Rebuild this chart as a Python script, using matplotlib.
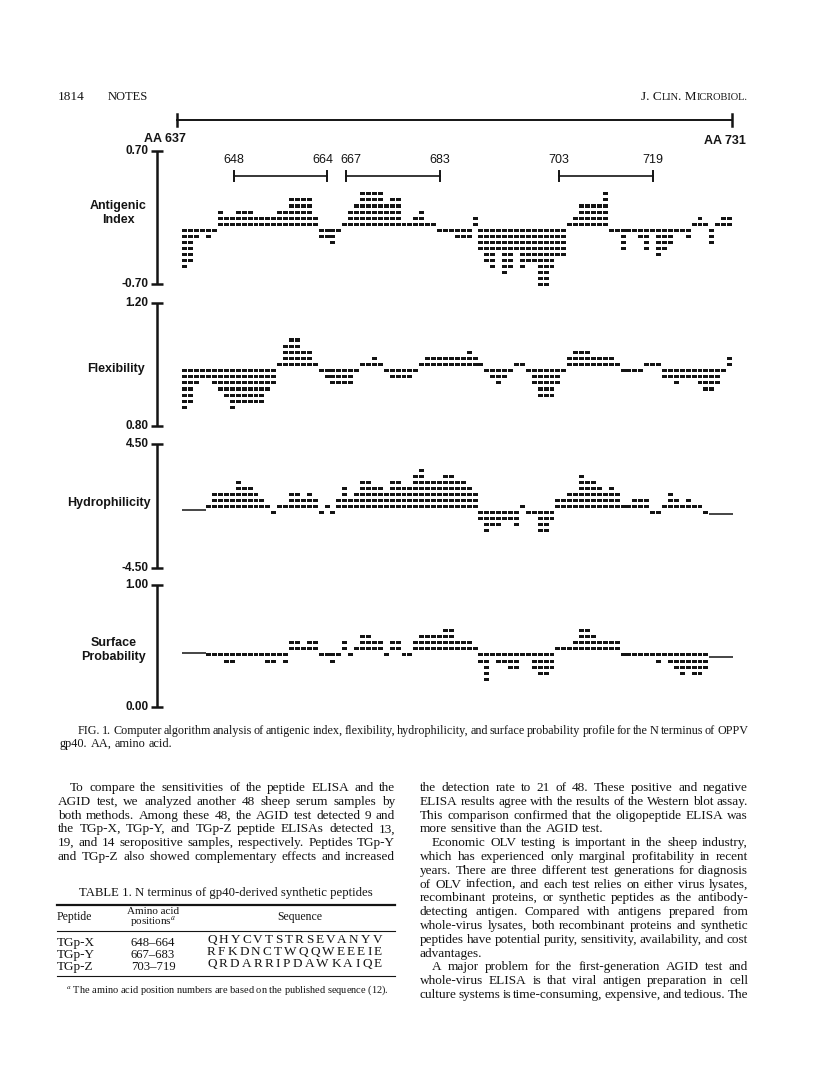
import numpy as np
import matplotlib
matplotlib.use("Agg")
import matplotlib.pyplot as plt

# ---------------- data ----------------
first_residue, last_residue = 637, 731
profile_residues = list(range(639, 732))   # 93 residues plotted

nan = float("nan")
antigenic_index = [-0.54, -0.48, -0.23, -0.16, -0.23, -0.16,
                   0.09, 0.03, 0.03, 0.09, 0.09, 0.09, 0.03, 0.03, 0.03, 0.03, 0.09, 0.09,
                   0.22, 0.22, 0.22, 0.22, 0.03,
                   -0.23, -0.23, -0.29, -0.16,
                   -0.04, 0.09, 0.15, 0.28, 0.28, 0.28, 0.28, 0.15, 0.22, 0.22, -0.04, -0.04,
                   0.03, 0.09, -0.04, -0.04,
                   -0.16, -0.16, -0.16, -0.23, -0.23, -0.23,
                   0.03,
                   -0.35, -0.48, -0.54, -0.35, -0.60, -0.54, -0.35, -0.54, -0.48, -0.48,
                   -0.73, -0.73, -0.54, -0.42, -0.42,
                   -0.04, 0.03, 0.15, 0.15, 0.15, 0.15, 0.28,
                   -0.16, -0.16, -0.35, -0.16, -0.16, -0.23, -0.35, -0.16, -0.42, -0.35,
                   -0.29, -0.16, -0.16, -0.23,
                   -0.04, 0.03, -0.04, -0.29, -0.04, 0.03, 0.03]

flexibility = [0.85, 0.87, 0.93, 0.95, 0.95, 0.93, 0.91, 0.89, 0.85, 0.87, 0.87, 0.87, 0.87,
               0.87, 0.91, 0.93,
               1.01, 1.07, 1.09, 1.09, 1.05, 1.05, 1.01,
               0.97, 0.95, 0.93, 0.93, 0.93, 0.93, 0.97,
               1.01, 1.01, 1.03, 1.01,
               0.97, 0.95, 0.95, 0.95, 0.95, 0.97,
               1.01, 1.03, 1.03, 1.03, 1.03, 1.03, 1.03, 1.03, 1.05, 1.03, 1.01,
               0.97, 0.95, 0.93, 0.95, 0.97,
               1.01, 1.01,
               0.97, 0.93, 0.89, 0.89, 0.89, 0.93, 0.97,
               1.03, 1.05, 1.05, 1.05, 1.03, 1.03, 1.03, 1.03, 1.01,
               0.97, 0.97, 0.97, 0.97,
               1.01, 1.01, 1.01,
               0.95, 0.95, 0.93, 0.95, 0.95, 0.95, 0.93, 0.91, 0.91, 0.93, 0.97,
               1.03]

hydrophilicity = [nan, nan, nan, nan,
                  0.19, 1.07, 1.07, 1.07, 1.07, 1.95, 1.51, 1.51, 1.07, 0.63, 0.19,
                  -0.69,
                  0.19, 0.19, 1.07, 1.07, 0.63, 1.07, 0.63,
                  -0.69, 0.19, -0.69,
                  0.63, 1.51, 0.63, 1.07, 1.95, 1.95, 1.51, 1.51, 1.07, 1.95, 1.95, 1.51,
                  1.51, 2.39, 2.83, 1.95, 1.95, 1.95, 2.39, 2.39, 1.95, 1.95, 1.51, 1.07,
                  -1.13, -2.01, -1.57, -1.57, -1.13, -1.13, -1.57,
                  0.19,
                  -0.69, -0.69, -2.01, -2.01, -1.13,
                  0.63, 0.63, 1.07, 1.07, 2.39, 1.95, 1.95, 1.51, 1.07, 1.51, 1.07, 0.19,
                  0.19, 0.63, 0.63, 0.63,
                  -0.69, -0.69,
                  0.19, 1.07, 0.63, 0.19, 0.63, 0.19, 0.19,
                  -0.69,
                  nan, nan, nan, nan]

surface_probability = [nan, nan, nan, nan,
                       0.40, 0.40, 0.40, 0.35, 0.35, 0.40, 0.40, 0.40, 0.40, 0.40, 0.35,
                       0.35, 0.40, 0.35,
                       0.55, 0.55, 0.50, 0.55, 0.55,
                       0.40, 0.40, 0.35, 0.40,
                       0.55, 0.40,
                       0.50, 0.60, 0.60, 0.55, 0.55,
                       0.40, 0.55, 0.55, 0.40, 0.40,
                       0.55, 0.60, 0.60, 0.60, 0.60, 0.65, 0.65, 0.55, 0.55, 0.55, 0.50,
                       0.35, 0.20, 0.40, 0.35, 0.35, 0.30, 0.30, 0.40, 0.40, 0.30, 0.25,
                       0.25, 0.30,
                       0.50, 0.50, 0.50, 0.55, 0.65, 0.65, 0.60, 0.55, 0.55, 0.55, 0.55,
                       0.40, 0.40, 0.40, 0.40, 0.40, 0.40, 0.35, 0.40, 0.35, 0.30, 0.25,
                       0.30, 0.25, 0.25, 0.30,
                       nan, nan, nan, nan]

antigenic_ticks = [0.70, -0.70]
flexibility_ticks = [1.20, 0.80]
hydrophilicity_ticks = [4.50, -4.50]
surface_ticks = [1.00, 0.00]

peptide_names = ["TGp-X", "TGp-Y", "TGp-Z"]
peptide_start = [648, 667, 703]
peptide_end = [664, 683, 719]
peptide_sequences = ["QHYCVTSTRSEVANYV", "RFKDNCTWQQWEEEIE", "QRDARRIPDAWKAIQE"]

# ---------------- page geometry (pixels) ----------------
W, H = 816, 1087
fig = plt.figure(figsize=(W / 100, H / 100), dpi=100)
plt.rcParams["mathtext.fontset"] = "stix"
SERIF = "Liberation Serif"
SANS = "Liberation Sans"
INK = "#141414"

PX0, COL = 182.0, 5.92      # left edge of first profile column, column pitch
AX_L, AX_R = 40, 790


def xd(px):
    return profile_residues[0] - 0.5 + (px - PX0) / COL


def make_panel(top_px, bot_px, vtop, vbot, pad=40):
    vpp = (vtop - vbot) / (bot_px - top_px)
    y0, y1 = top_px - pad, bot_px + pad
    ax = fig.add_axes([AX_L / W, 1 - y1 / H, (AX_R - AX_L) / W, (y1 - y0) / H])
    ax.set_xlim(xd(AX_L), xd(AX_R))
    ax.set_ylim(vbot - pad * vpp, vtop + pad * vpp)
    ax.axis("off")
    return ax, vpp


def draw_profile(ax, vals, base, step, line_levels):
    xs, bots = [], []
    for r, v in zip(profile_residues, vals):
        if np.isnan(v):
            continue
        n = int(round((v - base) / step))
        s = 1 if n > 0 else -1
        for k in range(1, abs(n) + 1):
            c = base + s * (k - 0.5) * step
            xs.append(r)
            bots.append(c - 0.25 * step)
    ax.bar(xs, [0.5 * step] * len(xs), bottom=bots, width=0.84, color=INK, linewidth=0)
    arr = np.array(vals, float)
    idx = list(np.where(np.isnan(arr))[0])
    runs = []
    for i in idx:
        if runs and i == runs[-1][-1] + 1:
            runs[-1].append(i)
        else:
            runs.append([i])
    for run, lev in zip(runs, line_levels):
        ax.hlines(lev, profile_residues[run[0]] - 0.5, profile_residues[run[-1]] + 0.5,
                  color=INK, lw=1.1)


def draw_axis(ax, ticks, fmt):
    xa = xd(157)
    ax.plot([xa, xa], [ticks[1], ticks[0]], color=INK, lw=1.8, solid_capstyle="butt")
    for t in ticks:
        ax.plot([xd(151), xd(163)], [t, t], color=INK, lw=1.8, solid_capstyle="butt")
        ax.text(xd(148.5), t, fmt.format(t), ha="right", va="center", fontsize=8.5,
                fontweight="bold", family=SANS, color=INK)


panels = [
    (antigenic_index, antigenic_ticks, 150.7, 284.3, -0.10, 0.063, [], "{:.2f}",
     "Antigenic\nIndex", 147, 213),
    (flexibility, flexibility_ticks, 303.3, 425.7, 0.99, 0.02, [], "{:.2f}",
     "Flexibility", 145, 369),
    (hydrophilicity, hydrophilicity_ticks, 444.3, 567.7, -0.25, 0.44, [-0.30, -0.60], "{:.2f}",
     "Hydrophilicity", 151, 503),
    (surface_probability, surface_ticks, 585.0, 706.7, 0.45, 0.05, [0.44, 0.41], "{:.2f}",
     "Surface\nProbability", 146, 650),
]

axes = []
for vals, ticks, tpx, bpx, base, step, lines, fmt, label, lx, ly in panels:
    ax, vpp = make_panel(tpx, bpx, ticks[0], ticks[1])
    draw_profile(ax, vals, base, step, lines)
    draw_axis(ax, ticks, fmt)
    fig.text(lx / W, 1 - ly / H, label, ha="right", va="center", fontsize=9,
             fontweight="bold", family=SANS, color=INK, multialignment="center",
             linespacing=1.3)
    axes.append((ax, vpp))

# peptide markers in the antigenic panel
ax0, vpp0 = axes[0]
bar_v = antigenic_ticks[0] - (176 - 150.7) * vpp0
lab_v = antigenic_ticks[0] - (160 - 150.7) * vpp0
tick_h = 5 * vpp0
label_pos = []
for s, e in zip(peptide_start, peptide_end):
    xs, xe = s - 0.8, e - 1.0
    ax0.plot([xs, xe], [bar_v, bar_v], color=INK, lw=1.2)
    for xx in (xs, xe):
        ax0.plot([xx, xx], [bar_v - tick_h, bar_v + tick_h], color=INK, lw=1.4)
    label_pos += [[xs, s], [xe, e]]
# push apart labels that would collide (664 / 667)
for i in range(1, len(label_pos)):
    if label_pos[i][0] - label_pos[i - 1][0] < 5.0:
        label_pos[i - 1][0] -= 0.7
        label_pos[i][0] += 0.8
for xx, num in label_pos:
    ax0.text(xx, lab_v, str(num), ha="center", va="center", fontsize=9, family=SANS,
             color=INK)

# top scale bar
axt = fig.add_axes([AX_L / W, 1 - 150 / H, (AX_R - AX_L) / W, 60 / H])
axt.set_xlim(xd(AX_L), xd(AX_R))
axt.set_ylim(150, 90)
axt.axis("off")
sx, ex = first_residue + 0.6, last_residue + 0.4
axt.plot([sx, ex], [120, 120], color=INK, lw=1.4)
for xx in (sx, ex):
    axt.plot([xx, xx], [114, 126], color=INK, lw=1.8)
axt.text(first_residue - 1.4, 139, "AA %d" % first_residue, ha="center", va="center",
         fontsize=9, fontweight="bold", family=SANS, color=INK)
axt.text(last_residue - 0.8, 141, "AA %d" % last_residue, ha="center", va="center",
         fontsize=9, fontweight="bold", family=SANS, color=INK)

# ---------------- page text ----------------
renderer = fig.canvas.get_renderer()
_wcache = {}


def wwidth(w, size, family=SERIF, weight="normal"):
    key = (w, size, family, weight)
    if key not in _wcache:
        t = fig.text(0, 0, w, fontsize=size, family=family, fontweight=weight)
        _wcache[key] = t.get_window_extent(renderer=renderer).width
        t.remove()
    return _wcache[key]


def put_line(text, x0, x1, y, size=9.5, justify=True, family=SERIF):
    words = text.split()
    avail = x1 - x0
    while True:
        ws = [wwidth(w, size, family) for w in words]
        space = wwidth("a a", size, family) - wwidth("aa", size, family)
        natural = sum(ws) + space * 0.55 * (len(words) - 1)
        if not justify or natural <= avail or size < 6:
            break
        size = round(size - 0.1, 2)
    if justify and len(words) > 1:
        gap = (avail - sum(ws)) / (len(words) - 1)
    else:
        gap = space
    x = x0
    for w, wd in zip(words, ws):
        fig.text(x / W, 1 - (y + 4) / H, w, fontsize=size, family=family, va="baseline",
                 ha="left", color=INK)
        x += wd + gap


def put(x, y, s, size=9, ha="left", family=SERIF, **kw):
    fig.text(x / W, 1 - y / H, s, fontsize=size, ha=ha, va="center", family=family,
             color=INK, **kw)


# header
put(58, 97, "1814", 9.5)
put(108, 97, "NOTES", 9)
hdr = [("J. C", 9.5), ("LIN", 7.5), (". M", 9.5), ("ICROBIOL.", 7.5)]
tot = sum(wwidth(s, z) for s, z in hdr)
xx = 748 - tot
for s, z in hdr:
    put(xx, 97, s, z)
    xx += wwidth(s, z)

# caption
cap1 = ("FIG. 1. Computer algorithm analysis of antigenic index, flexibility, hydrophilicity, "
        "and surface probability profile for the N terminus of OPPV")
put_line(cap1, 78, 748, 730, size=8.8)
put_line("gp40. AA, amino acid.", 60, 748, 743, size=8.8, justify=False)

LH = 13.8
left_lines = [
    ("To compare the sensitivities of the peptide ELISA and the", True, True),
    ("AGID test, we analyzed another 48 sheep serum samples by", False, True),
    ("both methods. Among these 48, the AGID test detected 9 and", False, True),
    ("the TGp-X, TGp-Y, and TGp-Z peptide ELISAs detected 13,", False, True),
    ("19, and 14 seropositive samples, respectively. Peptides TGp-Y", False, True),
    ("and TGp-Z also showed complementary effects and increased", False, True),
]
right_lines = [
    ("the detection rate to 21 of 48. These positive and negative", False, True),
    ("ELISA results agree with the results of the Western blot assay.", False, True),
    ("This comparison confirmed that the oligopeptide ELISA was", False, True),
    ("more sensitive than the AGID test.", False, False),
    ("Economic OLV testing is important in the sheep industry,", True, True),
    ("which has experienced only marginal profitability in recent", False, True),
    ("years. There are three different test generations for diagnosis", False, True),
    ("of OLV infection, and each test relies on either virus lysates,", False, True),
    ("recombinant proteins, or synthetic peptides as the antibody-", False, True),
    ("detecting antigen. Compared with antigens prepared from", False, True),
    ("whole-virus lysates, both recombinant proteins and synthetic", False, True),
    ("peptides have potential purity, sensitivity, availability, and cost", False, True),
    ("advantages.", False, False),
    ("A major problem for the first-generation AGID test and", True, True),
    ("whole-virus ELISA is that viral antigen preparation in cell", False, True),
    ("culture systems is time-consuming, expensive, and tedious. The", False, True),
]
for k, (txt, ind, jus) in enumerate(left_lines):
    put_line(txt, 58 + (12 if ind else 0), 395, 787 + k * LH, justify=jus)
for k, (txt, ind, jus) in enumerate(right_lines):
    put_line(txt, 420 + (12 if ind else 0), 748, 787 + k * LH, justify=jus)

# table
put(226, 893, "TABLE 1. N terminus of gp40-derived synthetic peptides", 9.2, ha="center")
fig.add_artist(plt.Line2D([57 / W, 395 / W], [1 - 905 / H] * 2, color=INK, lw=1.6))
put(57, 917, "Peptide", 8.5)
put(153, 912, "Amino acid", 8, ha="center")
put(153, 922, "positions$^{a}$", 8, ha="center")
put(300, 917, "Sequence", 8.5, ha="center")
fig.add_artist(plt.Line2D([57 / W, 395 / W], [1 - 931 / H] * 2, color=INK, lw=0.8))
for i, (nm, s, e, seq) in enumerate(zip(peptide_names, peptide_start, peptide_end,
                                         peptide_sequences)):
    y = 943 + 12 * i
    put(57, y, nm, 9.5)
    put(153, y, "%d\u2013%d" % (s, e), 9.2, ha="center")
    put_line(" ".join(seq), 207, 382, y - 4, size=9.5)
fig.add_artist(plt.Line2D([57 / W, 395 / W], [1 - 976 / H] * 2, color=INK, lw=0.8))
put(66, 990, "$^{a}$ The amino acid position numbers are based on the published sequence (12).",
    7.5)

fig.savefig("out.png", dpi=100)
